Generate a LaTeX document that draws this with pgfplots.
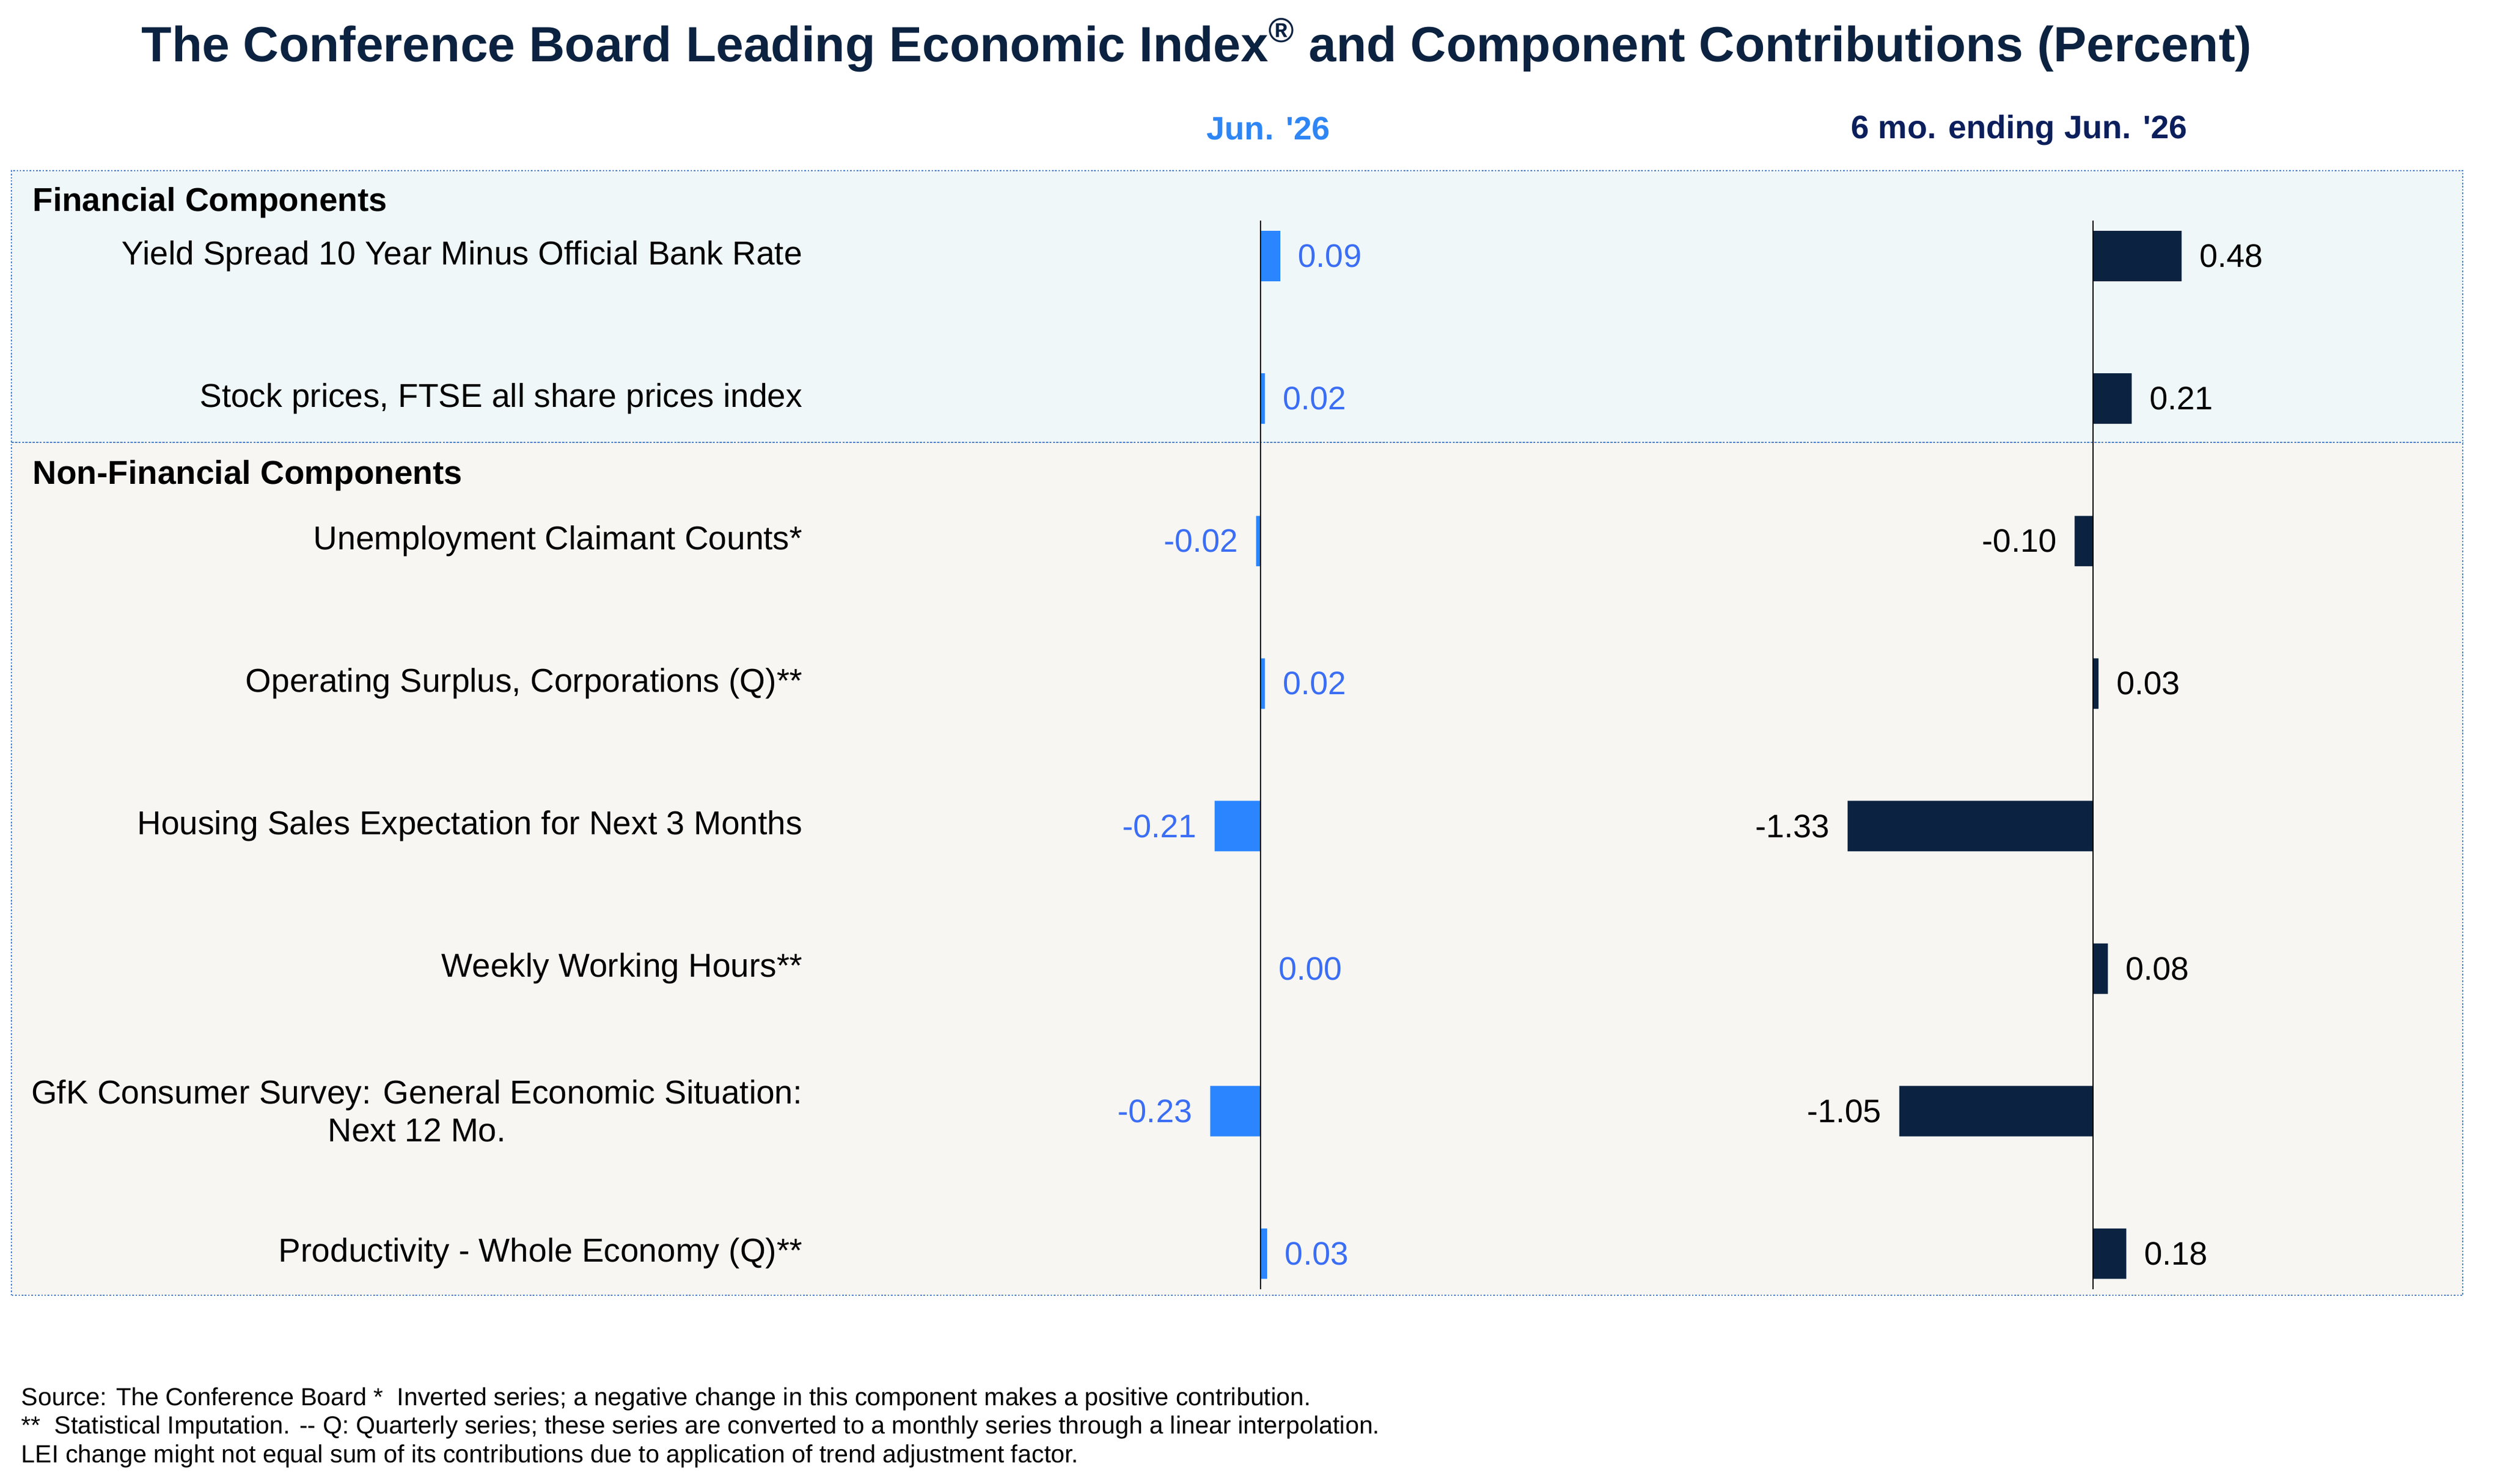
\documentclass[border=0pt]{standalone}
\usepackage{pgfplots}
\pgfplotsset{compat=1.18}
\usepackage{fontspec}
\setmainfont{Liberation Sans}
\definecolor{barblue}{HTML}{2B85FF}
\definecolor{lblblue}{HTML}{3B6EF5}
\definecolor{hdrblue}{HTML}{2E86F5}
\definecolor{navybar}{HTML}{0B2341}
\definecolor{titlenavy}{HTML}{0B2240}
\definecolor{hdrnavy}{HTML}{0B1F5C}
\definecolor{bordercol}{HTML}{4F81C7}
\definecolor{bgfin}{HTML}{EFF7F9}
\definecolor{bgnon}{HTML}{F7F6F2}
\newcommand{\lblfont}{\fontsize{13.2}{15.1}\selectfont}
\newcommand{\valfont}{\fontsize{13}{15.6}\selectfont}
\pgfplotsset{
  rowaxis/.style={
    scale only axis, height=426.79pt,
    ymin=-0.25, ymax=7.25, y dir=reverse,
    hide axis, clip=false,
    xbar, bar width=0.354, bar shift=0pt,
    point meta=explicit symbolic,
    nodes near coords,
  },
  posval/.style={nodes near coords style={anchor=west, font=\valfont, inner xsep=7pt, inner ysep=0pt}},
  negval/.style={nodes near coords style={anchor=east, font=\valfont, inner xsep=7pt, inner ysep=0pt}},
}
\begin{document}
\begin{tikzpicture}[x=1pt,y=1pt]
\path[use as bounding box] (0,0) rectangle (999.36,592.32);
% backgrounds
\fill[bgfin] (4.56,415.68) rectangle (983.3,524.16);
\fill[bgnon] (4.56,75.12) rectangle (983.3,415.68);
\draw[bordercol, line width=0.6pt, dash pattern=on 0.6pt off 0.7pt] (4.56,75.12) rectangle (983.3,524.16);
\draw[bordercol, line width=0.6pt, dash pattern=on 0.9pt off 0.5pt] (4.56,415.68) -- (983.3,415.68);
% title and headers
\node[anchor=base, inner sep=0pt, text=titlenavy, font=\fontsize{19.75}{24}\selectfont\bfseries] at (477.8,567.8) {The Conference Board Leading Economic Index\textsuperscript{®} and Component Contributions (Percent)};
\node[anchor=base, inner sep=0pt, text=hdrblue, font=\fontsize{13}{15.6}\selectfont\bfseries] at (506.4,536.6) {Jun. \textquotesingle 26};
\node[anchor=base, inner sep=0pt, text=hdrnavy, font=\fontsize{13}{15.6}\selectfont\bfseries] at (806.2,537.1) {6 mo. ending Jun. \textquotesingle 26};
% section headings
\node[anchor=base west, inner sep=0pt, font=\lblfont\bfseries] at (12.86,507.9) {Financial Components};
\node[anchor=base west, inner sep=0pt, font=\lblfont\bfseries] at (12.86,399.1) {Non-Financial Components};
% row labels
\begin{scope}[every node/.style={anchor=east, inner sep=0pt, font=\lblfont, align=center}]
\node at (320.6,490.08) {Yield Spread 10 Year Minus Official Bank Rate};
\node at (320.6,433.18) {Stock prices, FTSE all share prices index};
\node at (320.6,376.27) {Unemployment Claimant Counts*};
\node at (320.6,319.37) {Operating Surplus, Corporations (Q)**};
\node at (320.6,262.46) {Housing Sales Expectation for Next 3 Months};
\node at (320.6,205.56) {Weekly Working Hours**};
\node at (320.6,148.66) {GfK Consumer Survey: General Economic Situation:\\Next 12 Mo.};
\node at (320.6,91.75) {Productivity - Whole Economy (Q)**};
\end{scope}
% left axis: Jun. '26
\begin{axis}[rowaxis, at={(477.07pt,77.52pt)}, anchor=south west,
  width=39.31pt, xmin=-0.3, xmax=0.15]
\addplot[fill=barblue, draw=none, posval, nodes near coords style={text=lblblue}] coordinates {
  (0.09,0) [0.09]
  (0.02,1) [0.02]
  (0.02,3) [0.02]
  (0.00,5) [0.00]
  (0.03,7) [0.03]
};
\addplot[fill=barblue, draw=none, negval, nodes near coords style={text=lblblue}] coordinates {
  (-0.02,2) [-0.02]
  (-0.21,4) [-0.21]
  (-0.23,6) [-0.23]
};
\draw[black, line width=0.6pt] (axis cs:0,-0.25) -- (axis cs:0,7.25);
\end{axis}
% right axis: 6 mo. ending Jun. '26
\begin{axis}[rowaxis, at={(725.16pt,77.52pt)}, anchor=south west,
  width=154.73pt, xmin=-1.5, xmax=0.6]
\addplot[fill=navybar, draw=none, posval, nodes near coords style={text=black}] coordinates {
  (0.48,0) [0.48]
  (0.21,1) [0.21]
  (0.03,3) [0.03]
  (0.08,5) [0.08]
  (0.18,7) [0.18]
};
\addplot[fill=navybar, draw=none, negval, nodes near coords style={text=black}] coordinates {
  (-0.10,2) [-0.10]
  (-1.33,4) [-1.33]
  (-1.05,6) [-1.05]
};
\draw[black, line width=0.6pt] (axis cs:0,-0.25) -- (axis cs:0,7.25);
\end{axis}
% footer
\begin{scope}[every node/.style={anchor=base west, inner sep=0pt, font=\fontsize{9.9}{12}\selectfont}]
\node at (8.4,31.2) {Source: The Conference Board *\ \ Inverted series; a negative change in this component makes a positive contribution.};
\node at (8.4,19.8) {**\ \ Statistical Imputation. -{}- Q: Quarterly series; these series are converted to a monthly series through a linear interpolation.};
\node at (8.4,8.4) {LEI change might not equal sum of its contributions due to application of trend adjustment factor.};
\end{scope}
\end{tikzpicture}
\end{document}
